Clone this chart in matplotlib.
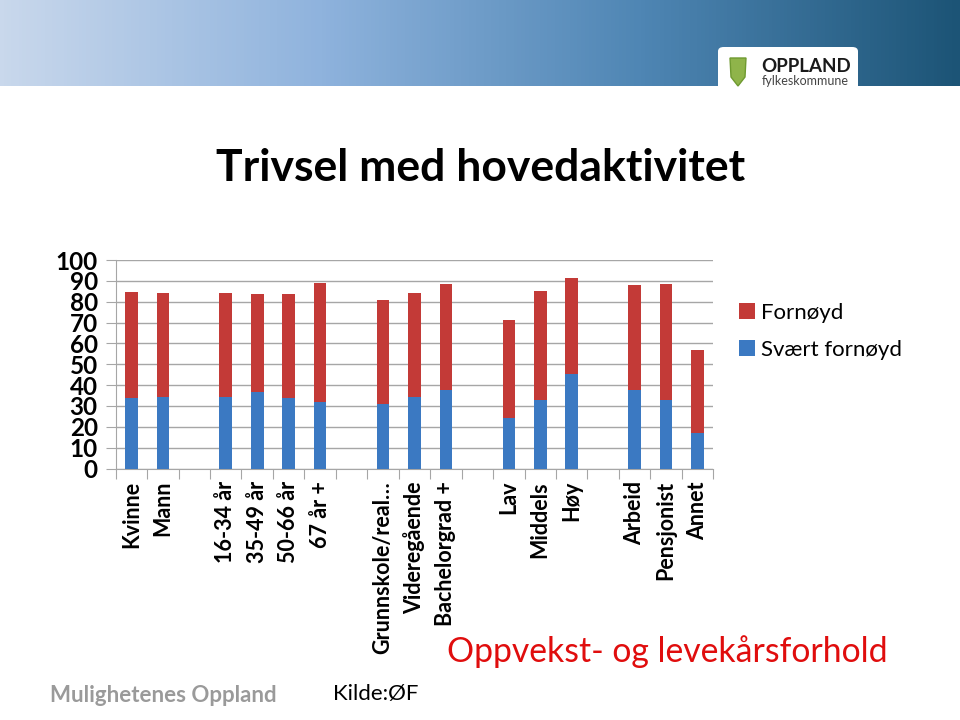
import numpy as np
import matplotlib.pyplot as plt
from matplotlib.patches import FancyBboxPatch, Polygon
from matplotlib.colors import LinearSegmentedColormap

# Data
kategorier = ['Kvinne', 'Mann',
              '16-34 år', '35-49 år', '50-66 år', '67 år +',
              'Grunnskole/real…', 'Videregående', 'Bachelorgrad +',
              'Lav', 'Middels', 'Høy',
              'Arbeid', 'Pensjonist', 'Annet']
gruppestorrelse = [2, 4, 3, 3, 3]
svaert_fornoyd = [34.0, 34.5, 34.5, 36.7, 33.7, 32.0,
                  31.0, 34.5, 37.7, 24.1, 32.9, 45.5, 37.7, 32.9, 16.9]
fornoyd = [50.6, 49.8, 49.8, 47.1, 49.9, 57.2,
           49.6, 49.6, 50.7, 46.9, 52.2, 46.1, 50.3, 55.8, 39.7]
y_ticks = [0, 10, 20, 30, 40, 50, 60, 70, 80, 90, 100]

plt.rcParams['font.family'] = ['Lato', 'DejaVu Sans']

# x-positions: one empty slot between groups
pos = []
slot = 0
for g, n in enumerate(gruppestorrelse):
    for i in range(n):
        pos.append(slot + 0.5)
        slot += 1
    if g < len(gruppestorrelse) - 1:
        slot += 1
n_slots = slot
pos = np.array(pos)

fig = plt.figure(figsize=(9.6, 7.2), dpi=100)

# banner at the top
ban = fig.add_axes([0, 1 - 86 / 720, 1, 86 / 720])
grad = np.linspace(0, 1, 256).reshape(1, -1)
cmap = LinearSegmentedColormap.from_list('ban', ['#c9d8ec', '#8fb3dd', '#4f86b4', '#1c5476'])
ban.imshow(grad, aspect='auto', cmap=cmap, extent=[0, 1, 0, 1])
ban.set_xlim(0, 1)
ban.set_ylim(0, 1)
ban.axis('off')

# logo box
fig.patches.append(FancyBboxPatch((718 / 960, 1 - 92 / 720), 140 / 960, 45 / 720,
                                  boxstyle='round,pad=0,rounding_size=0.006',
                                  transform=fig.transFigure, fc='white', ec='none'))
fig.patches.append(Polygon([[730 / 960, 1 - 58 / 720], [746 / 960, 1 - 58 / 720],
                            [745 / 960, 1 - 77 / 720], [738 / 960, 1 - 86 / 720],
                            [731 / 960, 1 - 77 / 720]],
                           closed=True, transform=fig.transFigure, fc='#8fb44a', ec='#6f9a30'))
fig.text(761 / 960, 1 - 67 / 720, 'OPPLAND', fontsize=13.5, fontweight='bold',
         color='#1a1a1a', va='center', ha='left')
fig.text(762 / 960, 1 - 81 / 720, 'fylkeskommune', fontsize=9,
         color='#444444', va='center', ha='left')

# title
fig.text(481 / 960, 1 - 168 / 720, 'Trivsel med hovedaktivitet', fontsize=32,
         fontweight='bold', ha='center', va='center')

ax = fig.add_axes([115.7 / 960, 1 - 468.5 / 720, 597.5 / 960, 208.5 / 720])
ax.bar(pos, svaert_fornoyd, width=0.4, color='#3b79c2', label='Svært fornøyd', zorder=3)
ax.bar(pos, fornoyd, width=0.4, bottom=svaert_fornoyd, color='#c33a37',
       label='Fornøyd', zorder=3)

ax.set_xlim(0, n_slots)
ax.set_ylim(0, 100)
ax.set_yticks(y_ticks)
ax.set_yticklabels([str(v) for v in y_ticks], fontsize=17.5, fontweight='bold')
ax.yaxis.grid(True, color='#a6a6a6', linewidth=1)
ax.set_axisbelow(True)

ax.set_xticks(np.arange(0, n_slots + 1))
ax.set_xticklabels([])
ax.set_xticks(pos, minor=True)
ax.set_xticklabels(kategorier, minor=True, rotation=90, fontsize=15.5,
                   fontweight='bold', va='top', ha='center')
ax.tick_params(axis='x', which='minor', length=0, pad=9)
ax.tick_params(axis='x', which='major', length=7, color='#a6a6a6')
ax.tick_params(axis='y', length=7, color='#a6a6a6', pad=6)

for s in ['top', 'right']:
    ax.spines[s].set_visible(False)
for s in ['left', 'bottom']:
    ax.spines[s].set_color('#a6a6a6')

h, l = ax.get_legend_handles_labels()
fig.legend(h[::-1], l[::-1], loc='upper left', bbox_to_anchor=(719 / 960, 1 - 283 / 720),
           frameon=False, fontsize=16, handlelength=0.7, handleheight=0.7,
           handletextpad=0.3, labelspacing=0.75)

fig.text(447 / 960, 1 - 652 / 720, 'Oppvekst- og levekårsforhold', fontsize=24.3,
         color='#e00d0d', ha='left', va='center')
fig.text(50 / 960, 1 - 695 / 720, 'Mulighetenes Oppland', fontsize=16,
         fontweight='bold', color='#9a9a9a', ha='left', va='center')
fig.text(333 / 960, 1 - 694 / 720, 'Kilde:ØF', fontsize=16,
         color='black', ha='left', va='center')

fig.savefig('out.png', dpi=100)
